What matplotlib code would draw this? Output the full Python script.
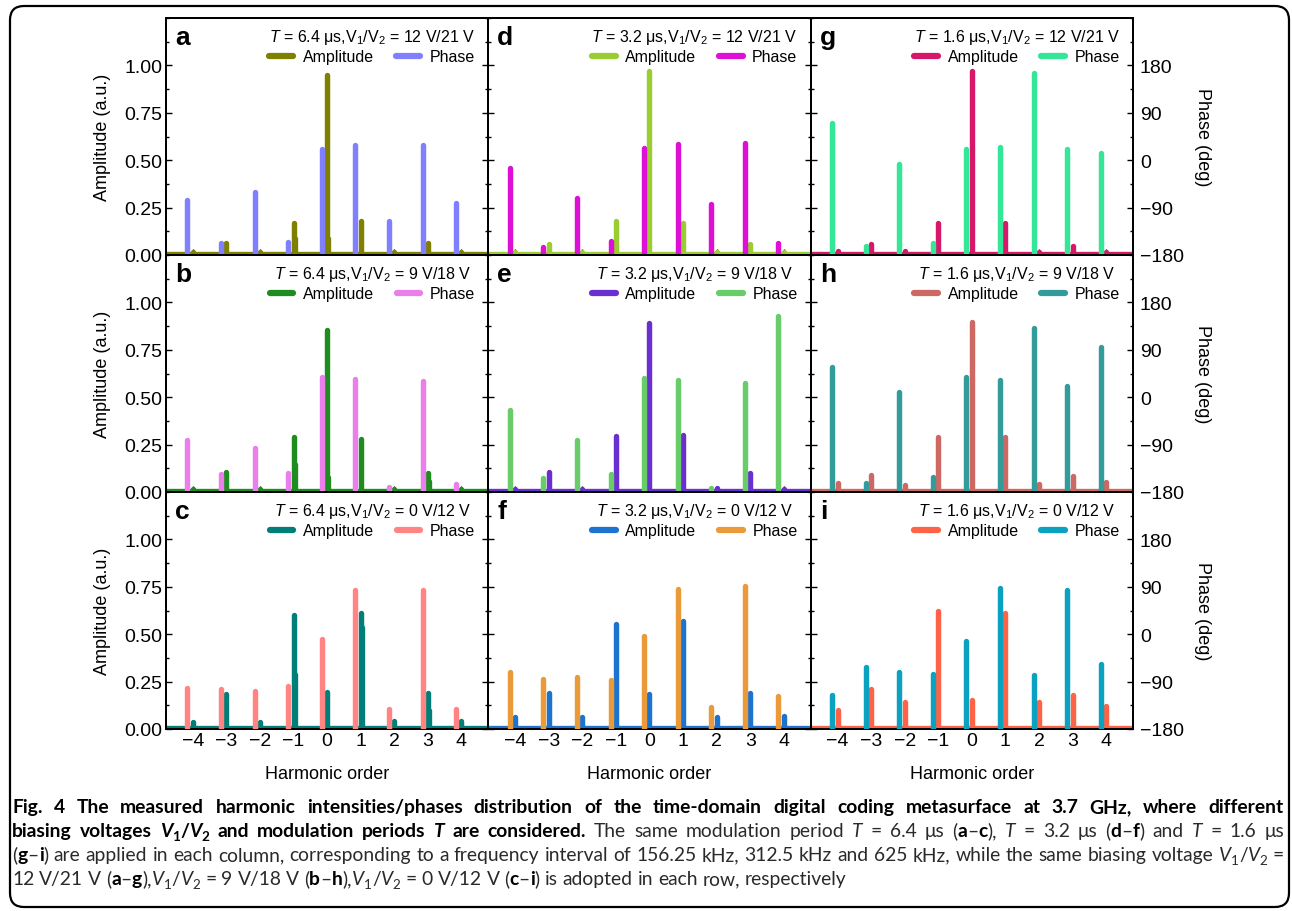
import matplotlib
matplotlib.use('Agg')
import matplotlib.pyplot as plt
import matplotlib.patches as mpatches
from matplotlib.lines import Line2D
from matplotlib.ticker import MultipleLocator, FormatStrFormatter
import numpy as np

plt.rcParams['font.family'] = ['Liberation Sans', 'DejaVu Sans']
plt.rcParams['mathtext.fontset'] = 'custom'
plt.rcParams['mathtext.rm'] = 'Liberation Sans'
plt.rcParams['mathtext.it'] = 'Liberation Sans:italic'
plt.rcParams['mathtext.bf'] = 'Liberation Sans:bold'

# ---- data ----
harmonics = [-4, -3, -2, -1, 0, 1, 2, 3, 4]
periods = ['6.4', '3.2', '1.6']
voltages = ['12 V/21 V', '9 V/18 V', '0 V/12 V']
letters = ['a', 'b', 'c', 'd', 'e', 'f', 'g', 'h', 'i']
amp_ticks = [0, 0.25, 0.5, 0.75, 1.0]
phase_ticks = [-180, -90, 0, 90, 180]

# amplitude (a.u.) at each harmonic
amp_a = [0.015, 0.065, 0.015, 0.170, 0.947, 0.179, 0.015, 0.065, 0.015]
amp_b = [0.015, 0.104, 0.015, 0.288, 0.854, 0.279, 0.015, 0.100, 0.015]
amp_c = [0.035, 0.185, 0.039, 0.602, 0.197, 0.611, 0.040, 0.190, 0.040]
amp_d = [0.015, 0.060, 0.015, 0.179, 0.968, 0.170, 0.015, 0.060, 0.015]
amp_e = [0.015, 0.104, 0.015, 0.297, 0.891, 0.300, 0.022, 0.098, 0.015]
amp_f = [0.062, 0.190, 0.065, 0.555, 0.185, 0.567, 0.065, 0.190, 0.070]
amp_g = [0.022, 0.056, 0.022, 0.167, 0.968, 0.167, 0.015, 0.049, 0.015]
amp_h = [0.046, 0.090, 0.037, 0.288, 0.898, 0.292, 0.042, 0.083, 0.051]
amp_i = [0.100, 0.210, 0.141, 0.621, 0.155, 0.613, 0.141, 0.181, 0.123]

# secondary (shoulder) peaks next to some harmonics, 0 = none
shoulder_a = [0, 0, 0, 0.09, 0.09, 0, 0, 0, 0]
shoulder_b = [0, 0, 0, 0.148, 0.077, 0, 0, 0.06, 0]
shoulder_c = [0, 0, 0, 0.29, 0, 0.54, 0, 0.10, 0]

# phase (deg) at each harmonic
phase_a = [-75, -158, -60, -155, 22, 28, -115, 28, -82]
phase_b = [-82, -145, -96, -143, 38, 35, -171, 31, -165]
phase_c = [-103, -104, -107, -99, -10, 83, -142, 83, -142]
phase_d = [-14, -164, -71, -153, 24, 30, -83, 32, -158]
phase_e = [-24, -153, -81, -145, 36, 33, -173, 27, 155]
phase_f = [-72, -86, -82, -87, -4, 86, -139, 91, -118]
phase_g = [70, -162, -8, -157, 22, 25, 166, 21, 13]
phase_h = [58, -162, 9, -151, 39, 33, 132, 22, 96]
phase_i = [-115, -63, -71, -75, -13, 88, -77, 84, -56]

noise_floor = 0.013

amps = [amp_a, amp_b, amp_c, amp_d, amp_e, amp_f, amp_g, amp_h, amp_i]
phases = [phase_a, phase_b, phase_c, phase_d, phase_e, phase_f, phase_g, phase_h, phase_i]
shoulders = [shoulder_a, shoulder_b, shoulder_c, None, None, None, None, None, None]

amp_colors = ['#7f7f00', '#1e8c1e', '#007f7a', '#9acd32', '#6a2fd0',
              '#1c74d0', '#d6186a', '#cd6863', '#ff6347']
phase_colors = ['#8080ff', '#ea7eea', '#ff8482', '#df10d6', '#68cc68',
                '#ea9a38', '#34e698', '#349b9b', '#0aa2c0']

W, H = 1292, 912
fig = plt.figure(figsize=(W / 100, H / 100), dpi=100)
fig.patch.set_facecolor('white')

col_w = 322.33
row_h = 237
top_px = 19
left_px = 166
ymax = 1.25

for k in range(9):
    c, r = k // 3, k % 3
    ax = fig.add_axes([(left_px + c * col_w) / W, (H - top_px - (r + 1) * row_h) / H,
                       col_w / W, row_h / H])
    ax2 = ax.twinx()
    x = np.array(harmonics, dtype=float)

    # amplitude: noise floor + peaks
    ax.axhline(noise_floor, color=amp_colors[k], lw=2.4, zorder=2)
    lc = ax.vlines(x, 0, amps[k], colors=amp_colors[k], lw=3.9, zorder=3)
    lc.set_capstyle('round')
    if shoulders[k] is not None:
        sh = np.array(shoulders[k])
        m = sh > 0
        lc2 = ax.vlines(x[m] + 0.06, 0, sh[m], colors=amp_colors[k], lw=2.4, zorder=3)
        lc2.set_capstyle('round')

    # phase bars on right axis
    lp = ax2.vlines(x - 0.16, -180, phases[k], colors=phase_colors[k], lw=3.9, zorder=3)
    lp.set_capstyle('round')

    ax.set_xlim(-4.8, 4.8)
    ax.set_ylim(0, ymax)
    ax2.set_ylim(-180, -180 + 360 * ymax)

    ax.set_xticks(harmonics)
    ax.set_yticks(amp_ticks)
    ax.yaxis.set_minor_locator(MultipleLocator(0.125))
    ax.yaxis.set_major_formatter(FormatStrFormatter('%.2f'))
    ax2.set_yticks(phase_ticks)
    ax2.yaxis.set_minor_locator(MultipleLocator(45))

    ax.tick_params(axis='both', which='major', direction='in', length=4, width=1,
                   labelsize=14, pad=2.5)
    ax.tick_params(axis='y', which='minor', direction='in', length=2.5, width=1)
    ax.tick_params(axis='y', right=False)
    ax2.tick_params(axis='y', which='major', direction='in', length=4, width=1,
                    labelsize=14, pad=5)
    ax2.tick_params(axis='y', which='minor', direction='in', length=2.5, width=1)

    for a_ in (ax, ax2):
        for sp in a_.spines.values():
            sp.set_linewidth(1.4)

    if c != 0:
        ax.tick_params(axis='y', labelleft=False)
    else:
        ax.set_ylabel('Amplitude (a.u.)', fontsize=13, labelpad=10)
    if c != 2:
        ax2.tick_params(axis='y', labelright=False)
    else:
        ax2.set_ylabel('Phase (deg)', fontsize=13, rotation=270, va='bottom', labelpad=7)
    if r != 2:
        ax.tick_params(axis='x', labelbottom=False)
    else:
        ax.set_xlabel('Harmonic order', fontsize=13, labelpad=11)

    ax.text(9 / col_w, 1 - 7 / row_h, letters[k], transform=ax.transAxes,
            fontsize=19, fontweight='bold', ha='left', va='top', zorder=6)

    handles = [Line2D([], [], color=amp_colors[k], lw=4.5, solid_capstyle='round'),
               Line2D([], [], color=phase_colors[k], lw=4.5, solid_capstyle='round')]
    title = r'$T$ = ' + periods[c] + ' μs,V$_1$/V$_2$ = ' + voltages[r]
    ax2.legend(handles, ['Amplitude', 'Phase'], ncol=2, loc='upper right',
               bbox_to_anchor=(1 - 13 / col_w, 1 - 9 / row_h), frameon=False,
               fontsize=11.5, title=title, title_fontsize=11.5,
               handlelength=1.5, handletextpad=0.6, columnspacing=1.4,
               borderpad=0, borderaxespad=0, labelspacing=0.2)

# ---- frame ----
frame = mpatches.FancyBboxPatch((0.10, 0.04), 12.79, 9.01,
                                boxstyle='round,pad=0,rounding_size=0.14',
                                transform=fig.dpi_scale_trans, fill=False,
                                lw=1.6, ec='black')
fig.add_artist(frame)

# ---- caption ----
cap_font = ['Lato', 'DejaVu Sans']
cap_left, cap_right = 12, 1284

line1 = [("Fig. 4 The measured harmonic intensities/phases distribution of the time-domain "
          "digital coding metasurface at 3.7 GHz, where different", 'b')]
line2 = [("biasing voltages ", 'b'), ("V", 'bi'), ("1", 'bs'), ("/", 'b'), ("V", 'bi'),
         ("2", 'bs'), (" and modulation periods ", 'b'), ("T", 'bi'), (" are considered.", 'b'),
         (" The same modulation period ", 'n'), ("T", 'i'), (" = 6.4 μs (", 'n'), ("a", 'b'),
         ("–", 'n'), ("c", 'b'), ("), ", 'n'), ("T", 'i'), (" = 3.2 μs (", 'n'), ("d", 'b'),
         ("–", 'n'), ("f", 'b'), (") and ", 'n'), ("T", 'i'), (" = 1.6 μs", 'n')]
line3 = [("(", 'n'), ("g", 'b'), ("–", 'n'), ("i", 'b'),
         (") are applied in each column, corresponding to a frequency interval of 156.25 kHz, "
          "312.5 kHz and 625 kHz, while the same biasing voltage ", 'n'),
         ("V", 'i'), ("1", 's'), ("/", 'n'), ("V", 'i'), ("2", 's'), (" =", 'n')]
line4 = [("12 V/21 V (", 'n'), ("a", 'b'), ("–", 'n'), ("g", 'b'), ("),", 'n'),
         ("V", 'i'), ("1", 's'), ("/", 'n'), ("V", 'i'), ("2", 's'), (" = 9 V/18 V (", 'n'),
         ("b", 'b'), ("–", 'n'), ("h", 'b'), ("),", 'n'),
         ("V", 'i'), ("1", 's'), ("/", 'n'), ("V", 'i'), ("2", 's'), (" = 0 V/12 V (", 'n'),
         ("c", 'b'), ("–", 'n'), ("i", 'b'), (") is adopted in each row, respectively", 'n')]

renderer = fig.canvas.get_renderer()


def cap_style(sty, size):
    return dict(family=cap_font,
                fontsize=size * (0.7 if sty.endswith('s') else 1.0),
                fontweight='bold' if sty.startswith('b') else 'normal',
                fontstyle='italic' if 'i' in sty else 'normal',
                color='black' if sty.startswith('b') else '#2a2a2a',
                ha='left', va='baseline')


def words_of(runs):
    words, cur = [], []
    for txt, sty in runs:
        for n, p in enumerate(txt.split(' ')):
            if n > 0 and cur:
                words.append(cur)
                cur = []
            if p:
                cur.append((p, sty))
    if cur:
        words.append(cur)
    return words


def measure(words, size):
    placed, total = [], 0
    for w in words:
        segs, ww = [], 0
        for p, sty in w:
            t = fig.text(0, 0, p, **cap_style(sty, size))
            segs.append((t, ww, sty))
            ww += t.get_window_extent(renderer).width
        placed.append((segs, ww))
        total += ww
    t1 = fig.text(0, 0, 'a a', **cap_style('n', size))
    t2 = fig.text(0, 0, 'aa', **cap_style('n', size))
    space = t1.get_window_extent(renderer).width - t2.get_window_extent(renderer).width
    t1.remove()
    t2.remove()
    return placed, total, space


# pick one size so that every justified line fits in the frame
fits = []
for runs in (line1, line2, line3):
    words = words_of(runs)
    placed, total, space = measure(words, 10)
    fits.append((cap_right - cap_left) / (total + space * (len(words) - 1)))
    for segs, _ in placed:
        for t, _, _ in segs:
            t.remove()
cap_size = 10 * min(fits) * 0.995


def caption_line(runs, y_px, justify):
    words = words_of(runs)
    placed, total, space = measure(words, cap_size)
    gap = space
    if justify:
        gap = (cap_right - cap_left - total) / (len(words) - 1)
    xx = cap_left
    for segs, ww in placed:
        for t, off, sty in segs:
            dy = -0.3 * cap_size if sty.endswith('s') else 0
            t.set_position(((xx + off) / W, (H - y_px + dy) / H))
        xx += ww + gap


caption_line(line1, 813, True)
caption_line(line2, 837, True)
caption_line(line3, 861, True)
caption_line(line4, 885, False)

fig.savefig('out.png', dpi=100, facecolor='white')
